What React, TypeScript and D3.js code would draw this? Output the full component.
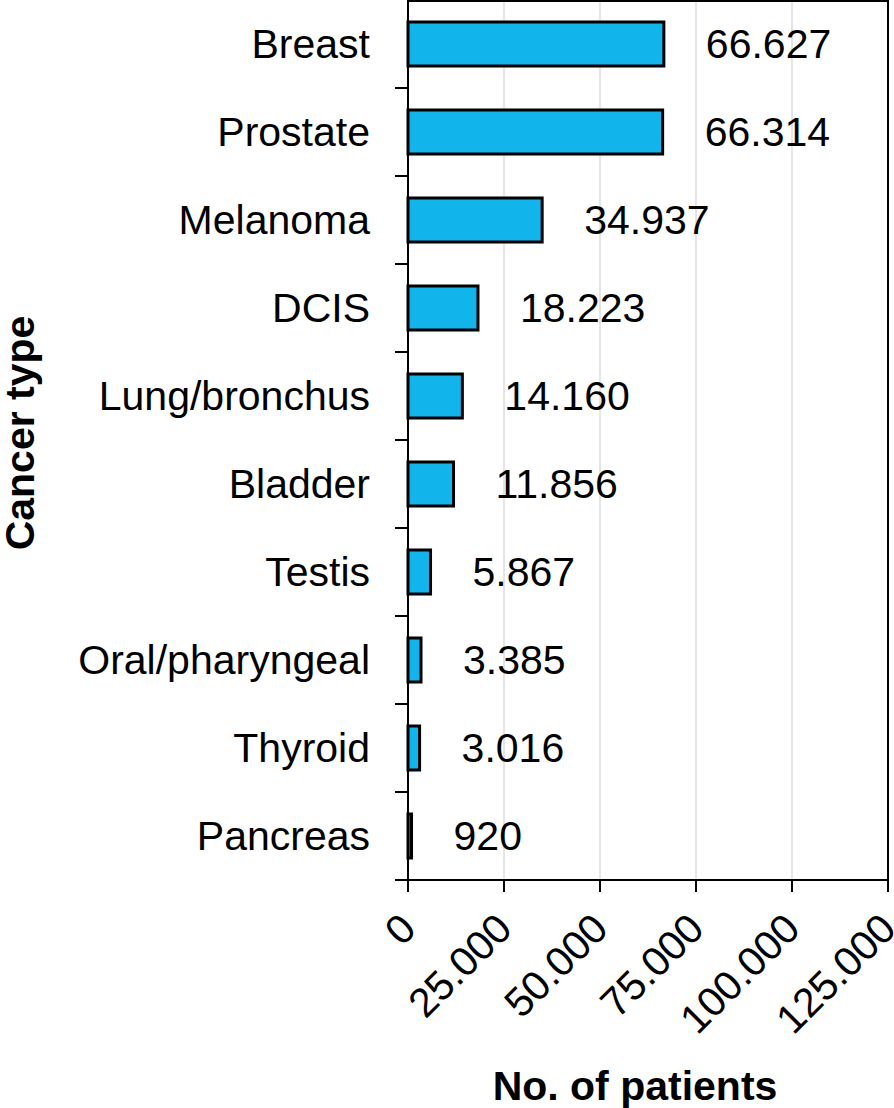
import React from "react";
import * as d3 from "d3";

const categories = [
  "Breast",
  "Prostate",
  "Melanoma",
  "DCIS",
  "Lung/bronchus",
  "Bladder",
  "Testis",
  "Oral/pharyngeal",
  "Thyroid",
  "Pancreas",
];
const patients = [66627, 66314, 34937, 18223, 14160, 11856, 5867, 3385, 3016, 920];
const xTicks = [0, 25000, 50000, 75000, 100000, 125000];

const W = 894;
const H = 1108;
const left = 408;
const right = 888;
const top = 0;
const bottom = 880;
const FONT = "Liberation Sans, Arial, Helvetica, sans-serif";

const fmt = (v: number) => {
  const s = String(v);
  return s.replace(/\B(?=(\d{3})+(?!\d))/g, ".");
};

export default function App() {
  const x = d3.scaleLinear().domain([0, 125000]).range([left, right]);
  const y = d3
    .scaleBand<string>()
    .domain(categories)
    .range([top, bottom])
    .paddingInner(0.5)
    .paddingOuter(0.25);
  const step = y.step();
  const data = categories.map((c, i) => ({ c, v: patients[i] }));

  return (
    <svg
      width={W}
      height={H}
      style={{ position: "absolute", left: 0, top: 0, background: "#fff" }}
      fontFamily={FONT}
    >
      {/* gridlines */}
      {xTicks.slice(1, -1).map((t) => (
        <line key={t} x1={x(t)} x2={x(t)} y1={top} y2={bottom} stroke="#dcdcdc" strokeWidth={1.5} />
      ))}
      {/* bars */}
      {data.map((d) => (
        <rect
          key={d.c}
          x={x(0)}
          y={y(d.c)}
          width={x(d.v) - x(0)}
          height={y.bandwidth()}
          fill="#12B4EC"
          stroke="#000"
          strokeWidth={3}
        />
      ))}
      {/* value labels */}
      {data.map((d) => (
        <text
          key={d.c}
          x={x(d.v) + 42}
          y={(y(d.c) as number) + y.bandwidth() / 2}
          dy="0.35em"
          fontSize={41}
          fill="#000"
        >
          {fmt(d.v)}
        </text>
      ))}
      {/* frame */}
      <line x1={left} x2={right} y1={top + 1} y2={top + 1} stroke="#000" strokeWidth={2} />
      <line x1={right} x2={right} y1={top} y2={bottom} stroke="#000" strokeWidth={2} />
      <line x1={left} x2={left} y1={top} y2={bottom} stroke="#000" strokeWidth={2} />
      <line x1={left - 13} x2={right} y1={bottom} y2={bottom} stroke="#000" strokeWidth={2} />
      {/* y ticks */}
      {categories.map((c, i) => (
        <line
          key={c}
          x1={left - 13}
          x2={left}
          y1={top + step * (i + 1)}
          y2={top + step * (i + 1)}
          stroke="#000"
          strokeWidth={2}
        />
      ))}
      {/* y labels */}
      {categories.map((c) => (
        <text
          key={c}
          x={370}
          y={(y(c) as number) + y.bandwidth() / 2}
          dy="0.35em"
          textAnchor="end"
          fontSize={41}
          fill="#000"
        >
          {c}
        </text>
      ))}
      {/* x ticks */}
      {xTicks.map((t) => (
        <g key={t}>
          <line x1={x(t)} x2={x(t)} y1={bottom} y2={bottom + 12} stroke="#000" strokeWidth={2} />
          <text
            transform={`translate(${x(t)},${bottom + 41}) rotate(-45)`}
            dy="0.35em"
            textAnchor="end"
            fontSize={41}
            fill="#000"
          >
            {fmt(t)}
          </text>
        </g>
      ))}
      {/* axis titles */}
      <text x={635} y={1100} textAnchor="middle" fontSize={41} fontWeight="bold" fill="#000">
        No. of patients
      </text>
      <text
        transform={`translate(34,433) rotate(-90)`}
        textAnchor="middle"
        fontSize={41}
        fontWeight="bold"
        fill="#000"
      >
        Cancer type
      </text>
    </svg>
  );
}
